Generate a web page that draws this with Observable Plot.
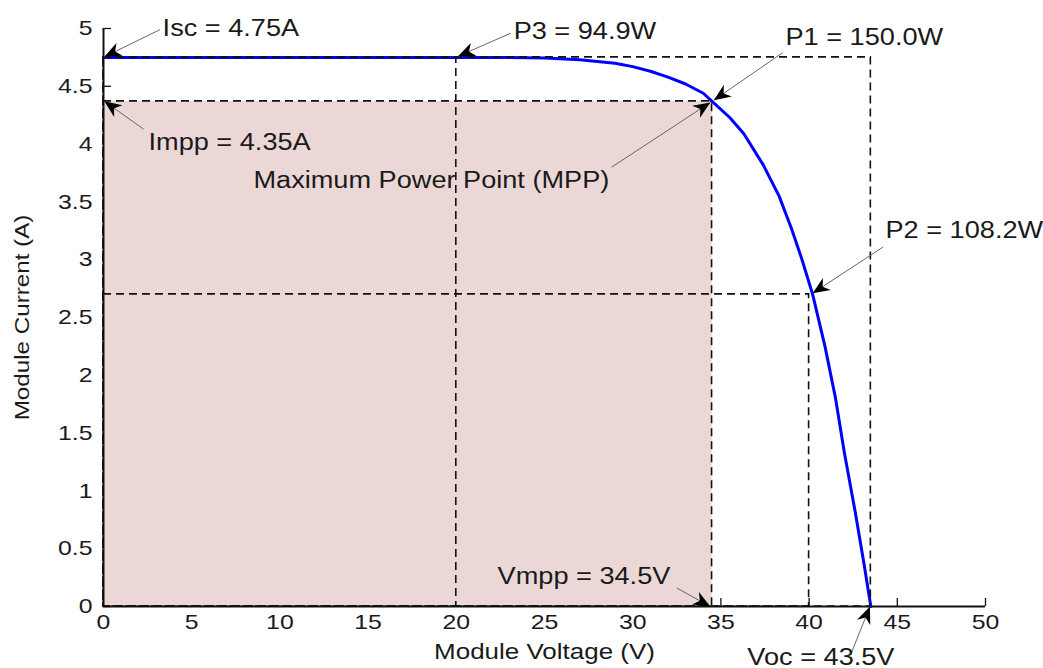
<!DOCTYPE html>
<html>
<head>
<meta charset="utf-8">
<script src="https://cdn.jsdelivr.net/npm/d3@7"></script>
<script src="https://cdn.jsdelivr.net/npm/@observablehq/plot@0.6"></script>
<style>
  body { margin: 0; background: white; }
</style>
</head>
<body>
<div id="chart"></div>
<script>
// ---- Data ----
const voltage = [0, 5, 10, 15, 20, 23, 25, 27, 29, 30, 31, 32, 33, 34, 34.5, 35.5, 36.3, 37.4, 38.3, 39.0, 39.6, 40.2, 40.9, 41.5, 42.0, 42.6, 43.1, 43.5];
const current = [4.75, 4.75, 4.75, 4.75, 4.75, 4.75, 4.745, 4.73, 4.70, 4.67, 4.63, 4.58, 4.52, 4.44, 4.37, 4.23, 4.09, 3.82, 3.55, 3.27, 3.00, 2.70, 2.25, 1.80, 1.33, 0.83, 0.38, 0];

// operating points (V, I) whose rectangles are outlined
const pointNames = ["P1", "P2", "P3", "Voc"];
const pointV = [34.5, 40, 20, 43.5];
const pointI = [4.37, 2.70, 4.75, 4.75];

const xTicks = [0, 5, 10, 15, 20, 25, 30, 35, 40, 45, 50];
const yTicks = [0, 0.5, 1, 1.5, 2, 2.5, 3, 3.5, 4, 4.5, 5];

const labelTexts = ["Isc = 4.75A", "Impp = 4.35A", "P3 = 94.9W", "P1 = 150.0W", "Maximum Power Point (MPP)", "P2 = 108.2W", "Vmpp = 34.5V", "Voc = 43.5V"];

// annotation placement (data coordinates): text anchor, arrow tail, arrow tip
const annotations = [
  {tx: 3.35, ty: 5.0,  x1: 3.2,  y1: 4.99, x2: 0.05, y2: 4.755},
  {tx: 2.55, ty: 4.01, x1: 2.27, y1: 4.13, x2: 0.05, y2: 4.37},
  {tx: 23.25, ty: 4.97, x1: 23.1, y1: 4.96, x2: 20.1, y2: 4.76},
  {tx: 38.66, ty: 4.92, x1: 38.5, y1: 4.79, x2: 34.6, y2: 4.38},
  {tx: 8.5,  ty: 3.68, x1: 28.8, y1: 3.80, x2: 34.4, y2: 4.36},
  {tx: 44.33, ty: 3.25, x1: 44.2, y1: 3.11, x2: 40.2, y2: 2.71},
  {tx: 22.34, ty: 0.26, x1: 32.5, y1: 0.16, x2: 34.4, y2: 0.0},
  {tx: 36.5, ty: -0.44, x1: 42.4, y1: -0.40, x2: 43.45, y2: 0.0}
].map((a, i) => ({...a, label: labelTexts[i]}));

const curve = voltage.map((v, i) => ({v, i: current[i]}));
const rects = pointV.map((v, k) => ({name: pointNames[k], v, i: pointI[k]}));

// ---- Layout ----
const W = 1043, H = 668, ML = 103, MR = 58, MT = 28, MB = 62;
const sx = (W - ML - MR) / 50, sy = (H - MT - MB) / 5;
const tickLen = 8;
const font = "'Liberation Sans', Arial, Helvetica, sans-serif";

const stealth = {
  draw(ctx, size) {
    const L = Math.sqrt(size / Math.PI);
    ctx.moveTo(0, 0);
    ctx.lineTo(-L, -L * 0.42);
    ctx.lineTo(-L * 0.7, 0);
    ctx.lineTo(-L, L * 0.42);
    ctx.closePath();
  }
};
const angle = a => Math.atan2(-(a.y2 - a.y1) * sy, (a.x2 - a.x1) * sx) * 180 / Math.PI;

const mpp = rects[0];

const plot = Plot.plot({
  width: W, height: H,
  marginLeft: ML, marginRight: MR, marginTop: MT, marginBottom: MB,
  style: {fontFamily: font, background: "white", color: "#1a1a1a", overflow: "visible"},
  x: {domain: [0, 50]},
  y: {domain: [0, 5]},
  marks: [
    // inward ticks
    Plot.ruleX(xTicks, {x: d => d, y1: 0, y2: tickLen / sy, stroke: "#111", strokeWidth: 1.3}),
    Plot.ruleY(yTicks, {y: d => d, x1: 0, x2: tickLen / sx, stroke: "#111", strokeWidth: 1.3}),
    // shaded MPP power rectangle
    Plot.rect([mpp], {x1: 0, x2: "v", y1: 0, y2: "i", fill: "#ecd7d7"}),
    // axis lines
    Plot.ruleX([0], {y1: 0, y2: 5, stroke: "#111", strokeWidth: 2}),
    Plot.ruleY([0], {x1: 0, x2: 50, stroke: "#111", strokeWidth: 2}),
    // I-V curve
    Plot.line(curve, {x: "v", y: "i", stroke: "#0000ff", strokeWidth: 3}),
    // dashed rectangles
    Plot.rect(rects, {x1: 0, x2: "v", y1: 0, y2: "i", fill: "none", stroke: "#111", strokeWidth: 1.6, strokeDasharray: "8,5"}),
    // annotation arrows
    Plot.link(annotations, {x1: "x1", y1: "y1", x2: "x2", y2: "y2", stroke: "#666", strokeWidth: 1}),
    Plot.dot(annotations, {x: "x2", y: "y2", symbol: stealth, r: 17, rotate: angle, fill: "#000", stroke: "none"}),
    Plot.text(annotations, {x: "tx", y: "ty", text: "label", textAnchor: "start", fontSize: 23, fill: "#1a1a1a"}),
    // axes
    Plot.axisX({ticks: xTicks, tickSize: 0, tickPadding: 8, fontSize: 21, label: null, tickFormat: d => `${d}`}),
    Plot.axisY({ticks: yTicks, tickSize: 0, tickPadding: 11, fontSize: 21, label: null, tickFormat: d => `${d}`}),
    Plot.text(["Module Voltage (V)"], {frameAnchor: "bottom", textAnchor: "middle", lineAnchor: "middle", dy: 45, fontSize: 22}),
    Plot.text(["Module Current (A)"], {frameAnchor: "left", textAnchor: "middle", lineAnchor: "middle", dx: -81, rotate: -90, fontSize: 20.5})
  ]
});

document.getElementById("chart").append(plot);

// slight horizontal stretch of the glyphs, as in the reference
const K = 1.18;
plot.querySelectorAll("text").forEach(t => {
  const len = t.getComputedTextLength();
  if (len > 0) {
    t.setAttribute("textLength", (len * K).toFixed(1));
    t.setAttribute("lengthAdjust", "spacingAndGlyphs");
  }
});
</script>
</body>
</html>
